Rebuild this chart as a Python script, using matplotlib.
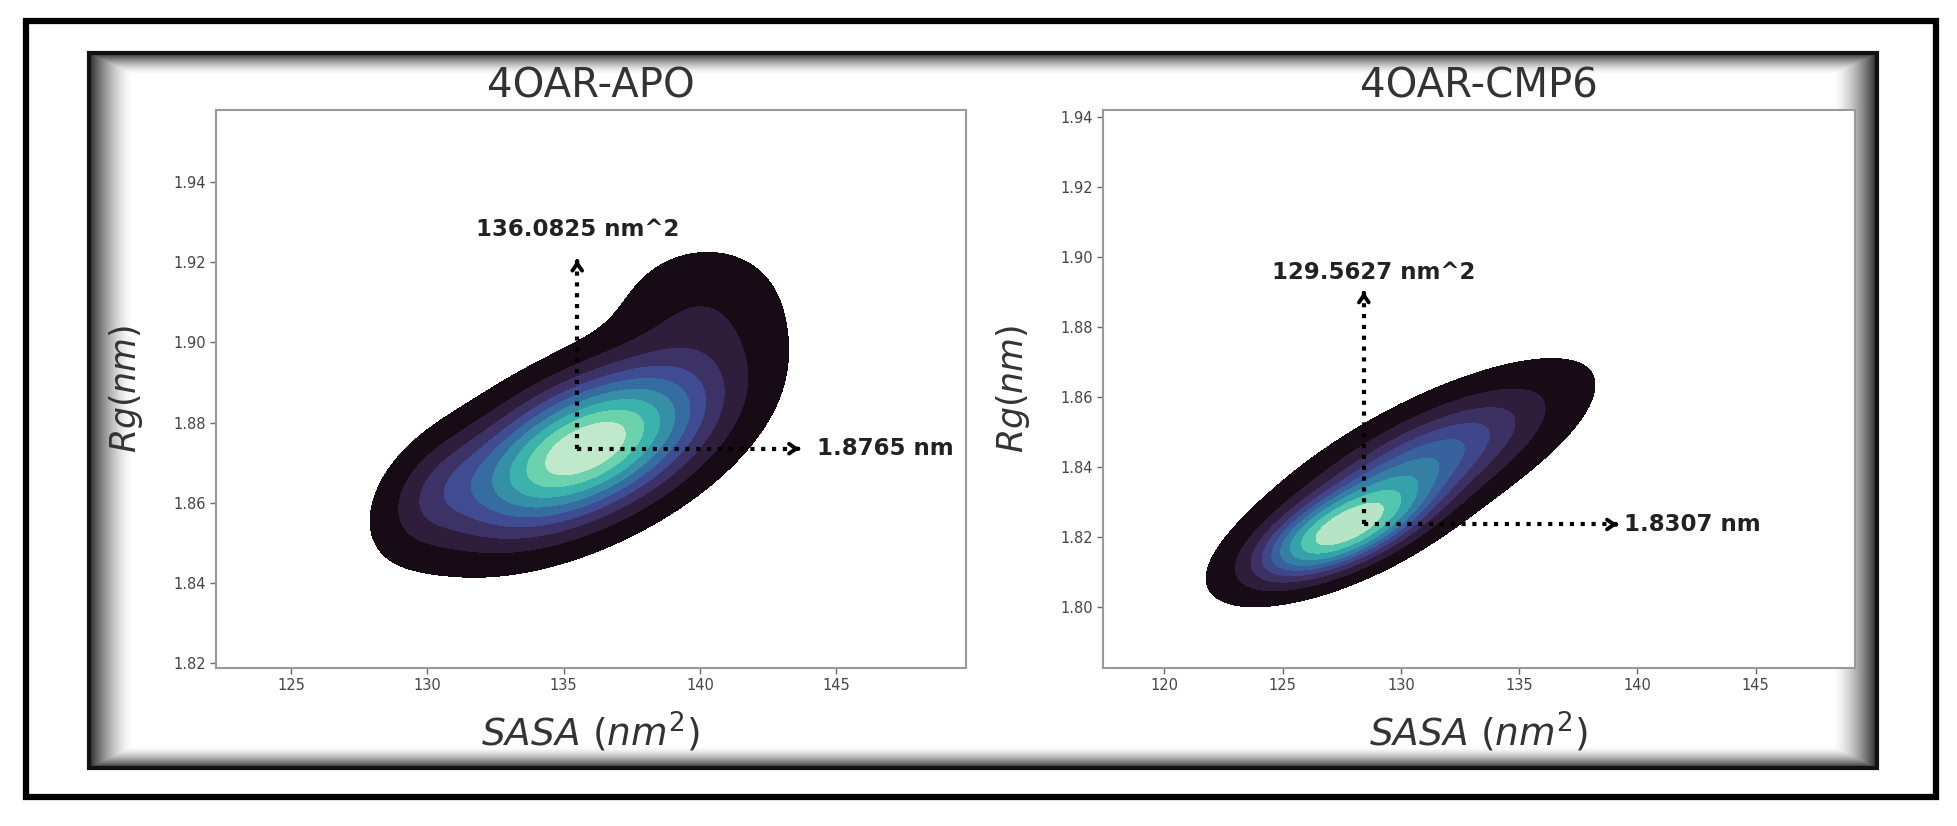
import numpy as np
import matplotlib
matplotlib.use("Agg")
import matplotlib.pyplot as plt
import seaborn as sns
from matplotlib.patches import Rectangle

# density model: gaussian components (centre, spread, tilt, weight)
APO_MX = [135.8, 140.0, 130.3]
APO_MY = [1.8735, 1.908, 1.863]
APO_SX = [2.9, 2.0, 1.3]
APO_SY = [0.013, 0.011, 0.009]
APO_RHO = [0.55, 0.10, 0.40]
APO_W = [0.89, 0.07, 0.04]

CMP_MX = [127.5, 130.6]
CMP_MY = [1.8215, 1.8395]
CMP_SX = [2.2, 3.5]
CMP_SY = [0.0085, 0.0145]
CMP_RHO = [0.65, 0.76]
CMP_W = [0.42, 0.58]

# annotation values
APO_MARK = (135.5, 1.8735)
APO_TIPS = (143.65, 1.9205)
APO_LABELS = ("136.0825 nm^2", "1.8765 nm")
CMP_MARK = (128.43, 1.8236)
CMP_TIPS = (139.15, 1.890)
CMP_LABELS = ("129.5627 nm^2", "1.8307 nm")

TITLES = ["4OAR-APO", "4OAR-CMP6"]
APO_XTICKS = [125, 130, 135, 140, 145]
APO_YTICKS = [1.82, 1.84, 1.86, 1.88, 1.90, 1.92, 1.94]
CMP_XTICKS = [120, 125, 130, 135, 140, 145]
CMP_YTICKS = [1.80, 1.82, 1.84, 1.86, 1.88, 1.90, 1.92, 1.94]

W_PX, H_PX = 1957, 826
MAKO = sns.color_palette("mako", as_cmap=True)


def mixture(X, Y, mx, my, sx, sy, rho, w):
    Z = np.zeros_like(X)
    for m1, m2, s1, s2, r, wt in zip(mx, my, sx, sy, rho, w):
        u = (X - m1) / s1
        v = (Y - m2) / s2
        q = (u * u - 2 * r * u * v + v * v) / (1 - r * r)
        Z += wt * np.exp(-0.5 * q) / (2 * np.pi * s1 * s2 * np.sqrt(1 - r * r))
    return Z


def iso_levels(Z, n=10, thresh=0.05):
    props = np.linspace(thresh, 1, n)
    vals = np.sort(Z.ravel())[::-1]
    cum = np.cumsum(vals) / vals.sum()
    idx = np.searchsorted(cum, 1 - props)
    lev = np.take(vals, idx, mode="clip")
    return np.unique(lev)


def kde_panel(ax, comps, xlim, ylim):
    xs = np.linspace(xlim[0], xlim[1], 400)
    ys = np.linspace(ylim[0], ylim[1], 400)
    X, Y = np.meshgrid(xs, ys)
    Z = mixture(X, Y, *comps)
    ax.contourf(X, Y, Z, levels=iso_levels(Z), cmap=MAKO)


def annotate_panel(ax, mark, tips, labels, up_label_xy, right_label_x):
    x0, y0 = mark
    tx, ty = tips
    dot = dict(color="black", lw=3, linestyle=(0, (1, 1.6)), zorder=5)
    ax.plot([x0, x0], [y0, ty], **dot)
    ax.plot([x0, tx], [y0, y0], **dot)
    head = dict(arrowstyle="->,head_length=0.5,head_width=0.35", lw=2.8, color="black")
    dy = (ax.get_ylim()[1] - ax.get_ylim()[0]) * 0.002
    dx = (ax.get_xlim()[1] - ax.get_xlim()[0]) * 0.002
    ax.annotate("", xy=(x0, ty), xytext=(x0, ty - dy), arrowprops=head, zorder=6)
    ax.annotate("", xy=(tx, y0), xytext=(tx - dx, y0), arrowprops=head, zorder=6)
    ax.text(up_label_xy[0], up_label_xy[1], labels[0], ha="center", va="center",
            fontsize=16.5, fontweight="bold", color="#222")
    ax.text(right_label_x, y0, labels[1], ha="left", va="center",
            fontsize=16.5, fontweight="bold", color="#222")


def style_axes(ax, title, xticks, yticks, xlim, ylim):
    ax.set_xlim(*xlim)
    ax.set_ylim(*ylim)
    ax.set_xticks(xticks)
    ax.set_yticks(yticks)
    ax.set_yticklabels([f"{t:.2f}" for t in yticks])
    ax.tick_params(labelsize=10.5, colors="#666", labelcolor="#444", length=4, width=1)
    for s in ax.spines.values():
        s.set_color("#999")
        s.set_linewidth(1.5)
    ax.set_title(title, fontsize=29, color="#333", pad=9)
    ax.set_xlabel(r"$SASA\ (nm^2)$", fontsize=27, color="#333", labelpad=12)
    ax.set_ylabel(r"$Rg(nm)$", fontsize=25, color="#333", labelpad=20)


fig = plt.figure(figsize=(W_PX / 100, H_PX / 100), dpi=100)

# frame with inner shadow
bg = fig.add_axes([0, 0, 1, 1])
bg.axis("off")
fx0, fy0, fx1, fy1 = 89, 53, 1877, 768
fw, fh = fx1 - fx0, fy1 - fy0
gx, gy = np.meshgrid(np.arange(fw) + 0.5, np.arange(fh) + 0.5)
dx = np.minimum(gx, fw - gx) / 45.0
dy = np.minimum(gy, fh - gy) / 22.0
t = np.clip(np.minimum(dx, dy), 0, 1)
shade = np.zeros((fh, fw, 4))
shade[..., 3] = 0.85 * (1 - t) ** 1.6
bg.imshow(shade, extent=(fx0, fx1, fy1, fy0), interpolation="bilinear", aspect="auto")
bg.set_xlim(0, W_PX)
bg.set_ylim(H_PX, 0)
bg.add_patch(Rectangle((26, 21), 1910, 776, fill=False, lw=4.5, ec="black"))
bg.add_patch(Rectangle((fx0, fy0), fw, fh, fill=False, lw=3, ec="#111"))

apo_xlim, apo_ylim = (122.25, 149.76), (1.8188, 1.958)
cmp_xlim, cmp_ylim = (117.4, 149.2), (1.7826, 1.942)

ax1 = fig.add_axes([216 / W_PX, 1 - 668 / H_PX, 750 / W_PX, 558 / H_PX])
ax2 = fig.add_axes([1103 / W_PX, 1 - 668 / H_PX, 752 / W_PX, 558 / H_PX])

kde_panel(ax1, (APO_MX, APO_MY, APO_SX, APO_SY, APO_RHO, APO_W), apo_xlim, apo_ylim)
kde_panel(ax2, (CMP_MX, CMP_MY, CMP_SX, CMP_SY, CMP_RHO, CMP_W), cmp_xlim, cmp_ylim)

style_axes(ax1, TITLES[0], APO_XTICKS, APO_YTICKS, apo_xlim, apo_ylim)
style_axes(ax2, TITLES[1], CMP_XTICKS, CMP_YTICKS, cmp_xlim, cmp_ylim)

annotate_panel(ax1, APO_MARK, APO_TIPS, APO_LABELS, (135.5, 1.9283), 144.3)
annotate_panel(ax2, CMP_MARK, CMP_TIPS, CMP_LABELS, (128.86, 1.8957), 139.45)

fig.savefig("out.png", dpi=100)
